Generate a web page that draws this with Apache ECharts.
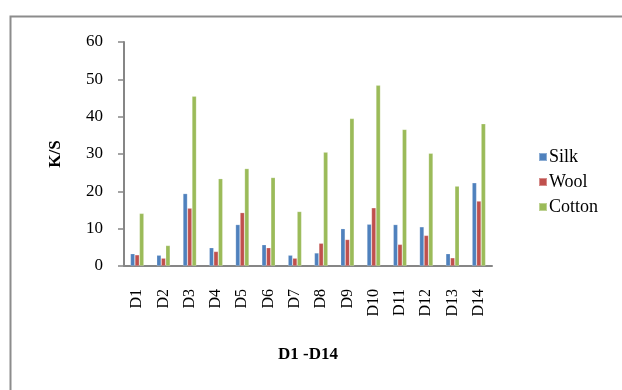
<!DOCTYPE html>
<html>
<head>
<meta charset="utf-8">
<script src="https://cdn.jsdelivr.net/npm/echarts@6/dist/echarts.min.js"></script>
<style>
html,body{margin:0;padding:0;background:#fff;}
#chart{width:622px;height:390px;}
</style>
</head>
<body>
<div id="chart"></div>
<script>
// K/S values for dyes D1–D14 on three fibres
const categories = ['D1','D2','D3','D4','D5','D6','D7','D8','D9','D10','D11','D12','D13','D14'];
const silk   = [3.3, 2.9, 19.4, 4.9, 11.1, 5.7, 2.9, 3.5, 10.0, 11.2, 11.1, 10.5, 3.3, 22.3];
const wool   = [3.0, 2.1, 15.5, 3.9, 14.3, 4.9, 2.1, 6.1, 7.1, 15.6, 5.8, 8.2, 2.2, 17.4];
const cotton = [14.1, 5.5, 45.5, 23.4, 26.1, 23.7, 14.6, 30.5, 39.5, 48.4, 36.6, 30.2, 21.4, 38.1];
const yTicks = { min: 0, max: 60, interval: 10 };

const font = '"Liberation Serif", "Times New Roman", serif';
const axisGray = '#868686';

function barSeries(name, data, color) {
  return {
    name: name,
    type: 'bar',
    data: data,
    barWidth: 4.5,
    barGap: '0%',
    itemStyle: { color: color, borderColor: 'rgba(255,255,255,0.35)', borderWidth: 0.6 }
  };
}

const chart = echarts.init(document.getElementById('chart'), null, { renderer: 'canvas' });
chart.setOption({
  animation: false,
  backgroundColor: '#ffffff',
  textStyle: { fontFamily: font, color: '#000' },
  graphic: [{
    type: 'rect',
    left: 8, top: 14,
    shape: { width: 700, height: 500 },
    style: { fill: 'none', stroke: '#8c8c8c', lineWidth: 2 },
    silent: true
  }],
  grid: { left: 124, right: 130, top: 42, bottom: 124 },
  legend: {
    orient: 'vertical',
    left: 533, top: 143,
    itemWidth: 8, itemHeight: 8,
    itemGap: 7,
    icon: 'rect',
    textStyle: { fontFamily: font, fontSize: 18, color: '#000', padding: [0, 0, 0, -3] },
    data: ['Silk', 'Wool', 'Cotton']
  },
  xAxis: {
    type: 'category',
    data: categories,
    name: 'D1 -D14',
    nameLocation: 'middle',
    nameGap: 80,
    nameTextStyle: { fontFamily: font, fontSize: 17, fontWeight: 'bold', color: '#000' },
    axisLine: { lineStyle: { color: axisGray, width: 2 } },
    axisTick: { show: false },
    axisLabel: { rotate: 90, margin: 23, fontFamily: font, fontSize: 16, color: '#000', interval: 0 }
  },
  yAxis: {
    type: 'value',
    min: yTicks.min, max: yTicks.max, interval: yTicks.interval,
    name: 'K/S',
    nameLocation: 'middle',
    nameGap: 60,
    nameRotate: 90,
    nameTextStyle: { fontFamily: font, fontSize: 17, fontWeight: 'bold', color: '#000' },
    axisLine: { show: true, lineStyle: { color: axisGray, width: 2 } },
    axisTick: { show: true, length: 6, lineStyle: { color: axisGray, width: 1.5 } },
    axisLabel: { margin: 21, fontFamily: font, fontSize: 17, color: '#000' },
    splitLine: { show: false }
  },
  series: [
    barSeries('Silk', silk, '#4F81BD'),
    barSeries('Wool', wool, '#C0504D'),
    barSeries('Cotton', cotton, '#9BBB59')
  ]
});
</script>
</body>
</html>
